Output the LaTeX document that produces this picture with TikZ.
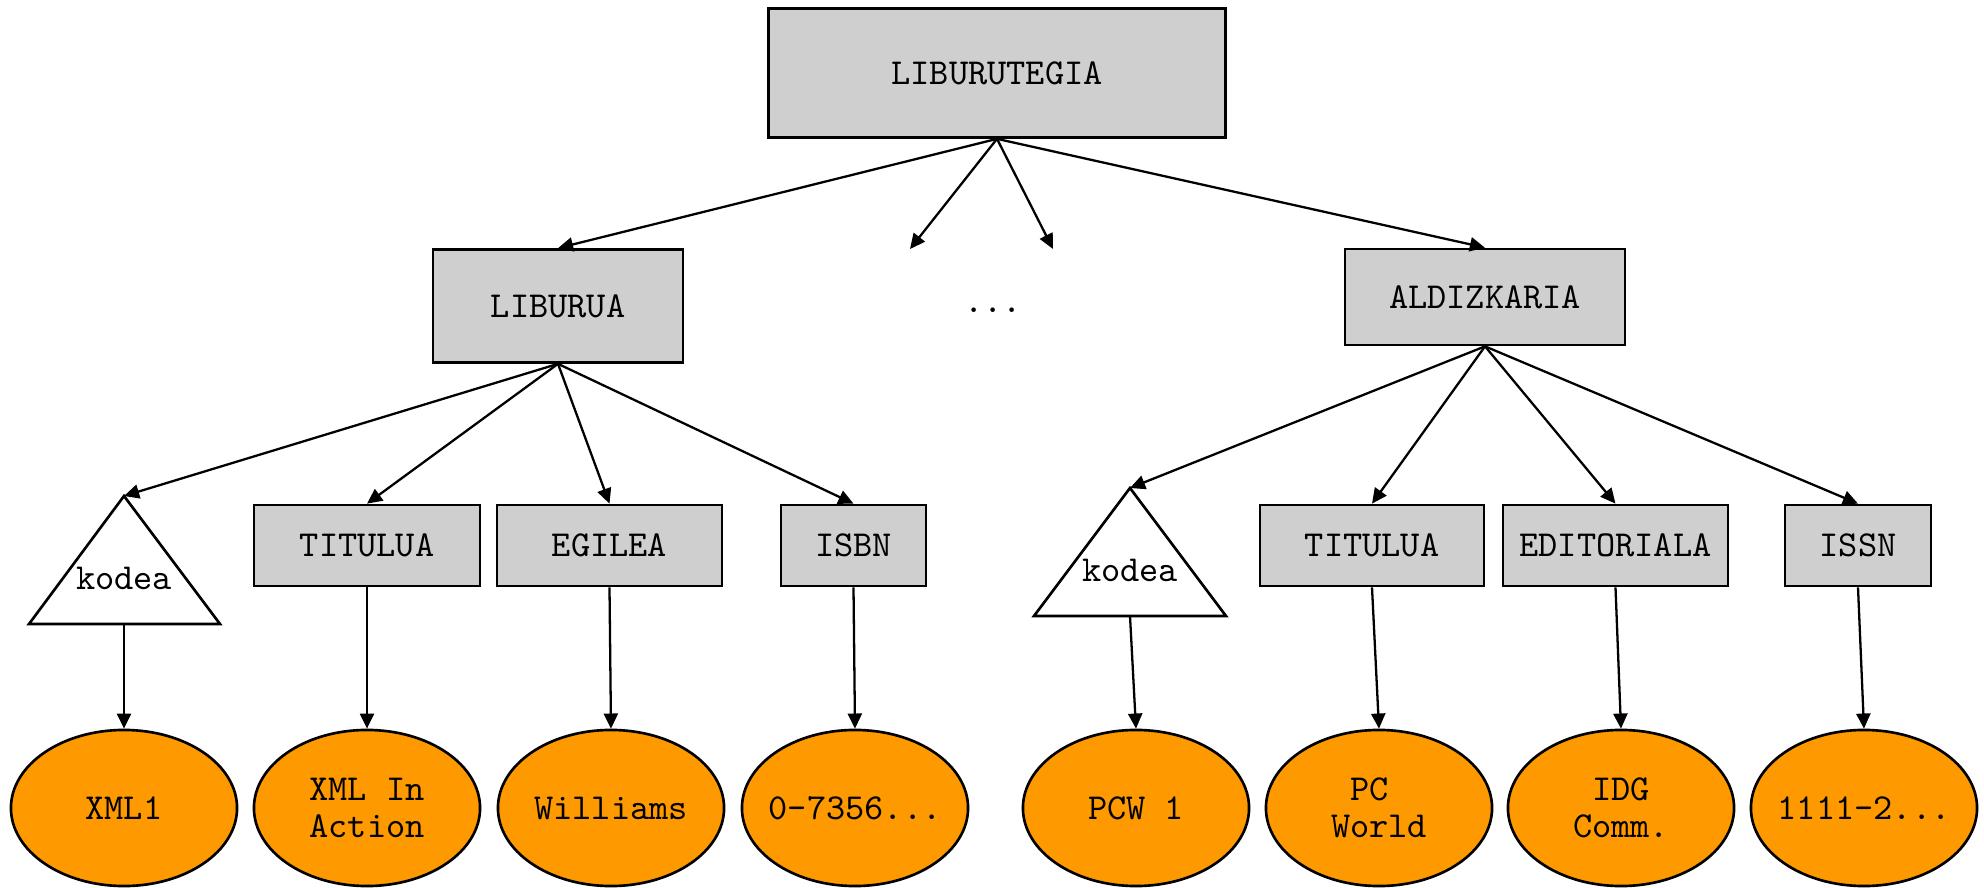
\documentclass[tikz,border=0pt]{standalone}
\usetikzlibrary{arrows.meta,shapes.geometric}
\definecolor{boxgray}{HTML}{CFCFCF}
\definecolor{leaforange}{HTML}{FF9900}

\begin{document}
\begin{tikzpicture}[x=0.01cm,y=-0.01cm,>={Triangle[length=4.3pt,width=4pt]},
  font=\ttfamily\fontsize{10.4}{10.5}\selectfont,
  elem/.style={draw,fill=boxgray,line width=0.75pt,inner sep=0pt},
  leaf/.style={ellipse,draw,fill=leaforange,line width=0.75pt,minimum width=2.26cm,minimum height=1.56cm,inner xsep=-3pt,inner ysep=0pt,align=center},
  attr/.style={draw,fill=white,line width=0.75pt},
  edge/.style={->,line width=0.65pt}]
\useasboundingbox (0,0) rectangle (1984,888);
% top levels
\node[elem,minimum width=4.57cm,minimum height=1.29cm] (liburutegia) at (997,73) {LIBURUTEGIA};
\node[elem,minimum width=2.50cm,minimum height=1.13cm] (liburua) at (558,306) {LIBURUA};
\node[anchor=base] (dots) at (993,313) {...};
\coordinate (dotsL) at (910,249);
\coordinate (dotsR) at (1053,249);
\node[elem,minimum width=2.80cm,minimum height=0.96cm] (aldizkaria) at (1485,297) {ALDIZKARIA};
% elements of the book
\draw[attr] (124,496) coordinate (kodea1top) -- (220,624) -- (29,624) -- cycle;
\coordinate (kodea1bot) at (124,624);
\node (kodea1) at (124,578) {kodea};
\node[elem,minimum width=2.26cm,minimum height=0.81cm] (titulua1) at (367,545.5) {TITULUA};
\node[elem,minimum width=2.25cm,minimum height=0.81cm] (egilea) at (609.5,545.5) {EGILEA};
\node[elem,minimum width=1.45cm,minimum height=0.81cm] (isbn) at (853.5,545.5) {ISBN};
% elements of the magazine
\draw[attr] (1130,488) coordinate (kodea2top) -- (1226,616) -- (1034,616) -- cycle;
\coordinate (kodea2bot) at (1130,616);
\node (kodea2) at (1130,570) {kodea};
\node[elem,minimum width=2.24cm,minimum height=0.81cm] (titulua2) at (1372,545.5) {TITULUA};
\node[elem,minimum width=2.25cm,minimum height=0.81cm] (editoriala) at (1615.5,545.5) {EDITORIALA};
\node[elem,minimum width=1.46cm,minimum height=0.81cm] (issn) at (1858,545.5) {ISSN};
% values
\node[leaf] (xml1) at (124,808) {XML1};
\node[leaf] (xmlaction) at (367,808) {XML In\\Action};
\node[leaf] (williams) at (611,808) {Williams};
\node[leaf] (isbnval) at (855,808) {0-7356...};
\node[leaf] (pcw1) at (1136,808) {PCW 1};
\node[leaf] (pcworld) at (1379,808) {PC\hphantom{W}\\World};
\node[leaf] (idg) at (1621,808) {IDG\\Comm.};
\node[leaf] (issnval) at (1864,808) {1111-2...};
% connectors
\draw[edge] (liburutegia.south) -- (liburua.north);
\draw[edge] (liburutegia.south) -- (dotsL);
\draw[edge] (liburutegia.south) -- (dotsR);
\draw[edge] (liburutegia.south) -- (aldizkaria.north);
\draw[edge] (liburua.south) -- (kodea1top);
\draw[edge] (liburua.south) -- (titulua1.north);
\draw[edge] (liburua.south) -- (egilea.north);
\draw[edge] (liburua.south) -- (isbn.north);
\draw[edge] (aldizkaria.south) -- (kodea2top);
\draw[edge] (aldizkaria.south) -- (titulua2.north);
\draw[edge] (aldizkaria.south) -- (editoriala.north);
\draw[edge] (aldizkaria.south) -- (issn.north);
\draw[edge] (kodea1bot) -- (xml1.north);
\draw[edge] (titulua1.south) -- (xmlaction.north);
\draw[edge] (egilea.south) -- (williams.north);
\draw[edge] (isbn.south) -- (isbnval.north);
\draw[edge] (kodea2bot) -- (pcw1.north);
\draw[edge] (titulua2.south) -- (pcworld.north);
\draw[edge] (editoriala.south) -- (idg.north);
\draw[edge] (issn.south) -- (issnval.north);
\end{tikzpicture}
\end{document}
